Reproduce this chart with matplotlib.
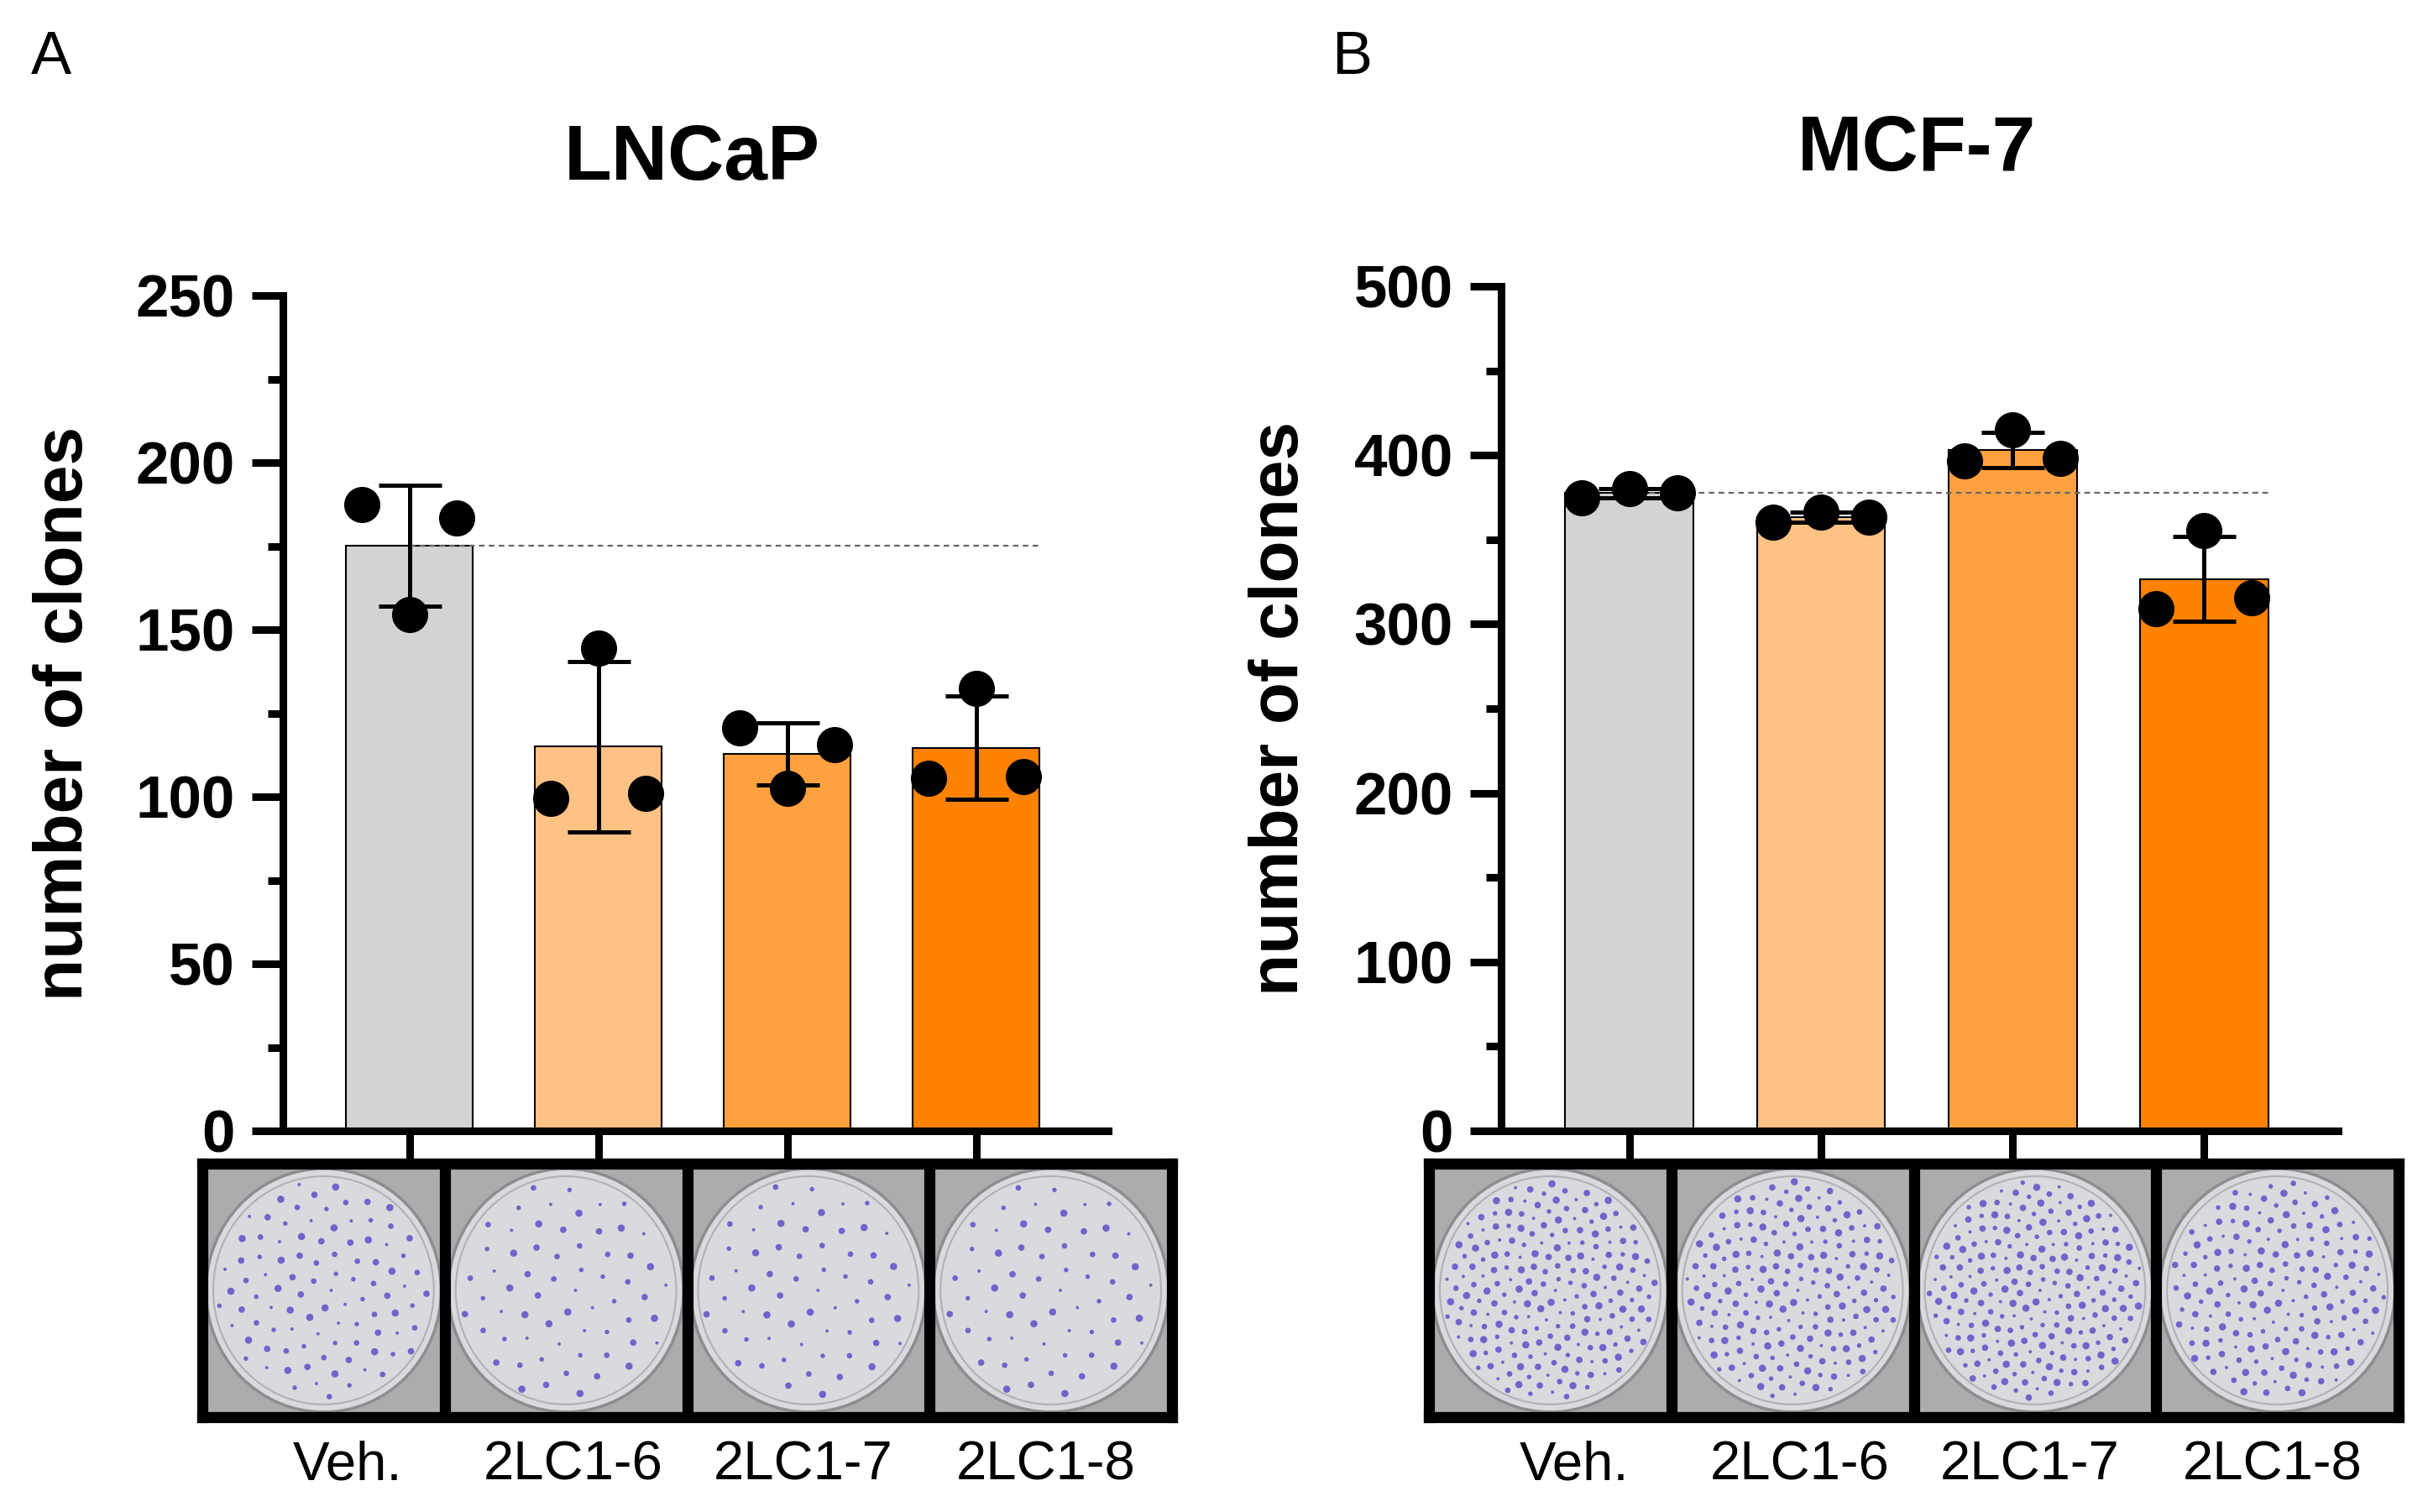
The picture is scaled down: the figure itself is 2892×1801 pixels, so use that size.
import numpy as np
import matplotlib
matplotlib.use('Agg')
import matplotlib.pyplot as plt
from matplotlib.patches import Rectangle, Ellipse

plt.rcParams['font.family'] = ['Liberation Sans', 'DejaVu Sans']

# data (left, middle, right dot in each group)
groups = ['Veh.', '2LC1-6', '2LC1-7', '2LC1-8']
lncap_pts = [[187.5, 154.5, 183.5],
             [99.5, 144.5, 101.0],
             [120.5, 102.5, 115.5],
             [105.5, 132.5, 106.0]]
mcf7_pts = [[375.0, 380.0, 377.5],
            [360.5, 366.5, 363.5],
            [396.5, 415.0, 398.0],
            [309.0, 355.5, 315.5]]
bar_colors = ['#D3D3D3', '#FFC285', '#FFA13F', '#FF8200']
dot_offsets = [-0.25, 0.0, 0.25]

W, H = 2892, 1801
fig = plt.figure(figsize=(W / 100, H / 100), dpi=100)


def px_axes(x0, y0, x1, y1):
    # pixel box (top-left origin) -> figure axes
    return fig.add_axes([x0 / W, 1 - y1 / H, (x1 - x0) / W, (y1 - y0) / H])


def bar_panel(ax, pts, ymax, ystep):
    pts = np.array(pts)
    x = np.arange(len(groups))
    means = pts.mean(axis=1)
    sds = pts.std(axis=1, ddof=1)
    ax.bar(x, means, width=0.67, color=bar_colors, edgecolor='black',
           linewidth=1.5, zorder=2)
    ax.hlines(means[0], 0, 3.35, colors='#666666', linewidth=1.6,
              linestyles=(0, (3, 2.3)), zorder=3)
    ax.errorbar(x, means, yerr=sds, fmt='none', ecolor='black',
                elinewidth=3.6, capsize=27, capthick=3.6, zorder=4)
    for i in range(len(groups)):
        ax.plot(x[i] + np.array(dot_offsets), pts[i], 'o', color='black',
                markersize=30, zorder=5, clip_on=False)
    ax.set_xlim(-0.67, 3.70)
    ax.set_ylim(0, ymax)
    ax.set_yticks(np.arange(0, ymax + 1, ystep))
    ax.set_yticks(np.arange(ystep / 2, ymax, ystep), minor=True)
    ax.set_xticks(x)
    ax.set_xticklabels([])
    for s in ['top', 'right']:
        ax.spines[s].set_visible(False)
    for s in ['left', 'bottom']:
        ax.spines[s].set_linewidth(6.5)
    ax.tick_params(axis='y', which='major', length=27, width=6.5, pad=14,
                   labelsize=51)
    ax.tick_params(axis='y', which='minor', length=13, width=6.5)
    ax.tick_params(axis='x', which='major', length=26, width=6.5)
    for lab in ax.get_yticklabels():
        lab.set_fontweight('bold')
    ax.set_ylabel('number of clones', fontsize=59, fontweight='bold')
    ax.yaxis.set_label_coords(-0.226, 0.5)


def dish_panel(ax, pts):
    means = np.array(pts).mean(axis=1)
    ax.set_xlim(0, 4)
    ax.set_ylim(0, 1)
    for i in range(4):
        ax.add_patch(Rectangle((i, 0), 1, 1, color='#ABADAA', zorder=1))
        ax.add_patch(Ellipse((i + 0.5, 0.5), 0.97, 0.96, facecolor='#D9DADD',
                             edgecolor='#8C8D8F', linewidth=2.5, zorder=2))
        ax.add_patch(Ellipse((i + 0.5, 0.5), 0.91, 0.90, facecolor='none',
                             edgecolor='#B0B1B4', linewidth=1.5, zorder=2))
        # colonies laid out on a sunflower pattern, count follows the mean
        n = int(means[i] * 0.55)
        k = np.arange(n)
        r = np.sqrt((k + 0.5) / n)
        th = k * 2.39996
        cx = i + 0.5 + 0.44 * r * np.cos(th)
        cy = 0.5 + 0.43 * r * np.sin(th)
        sz = 8 + 30 * ((k * 7) % 5) / 4
        ax.scatter(cx, cy, s=sz, color='#4B3CC4', alpha=0.75,
                   linewidths=0, zorder=3)
    for xv in [1, 2, 3]:
        ax.axvline(xv, color='black', linewidth=9.5, zorder=4)
    for s in ax.spines.values():
        s.set_linewidth(9.5)
    ax.set_xticks([0.6, 1.53, 2.48, 3.48])
    ax.set_xticklabels(groups, fontsize=47)
    ax.set_yticks([])
    ax.tick_params(axis='x', length=0, pad=20)


ax1 = px_axes(337, 352, 1320, 1347)
bar_panel(ax1, lncap_pts, 250, 50)
ax2 = px_axes(1788, 341, 2785, 1347)
bar_panel(ax2, mcf7_pts, 500, 100)

d1 = px_axes(241, 1386, 1396, 1688)
dish_panel(d1, lncap_pts)
d2 = px_axes(1702, 1386, 2857, 1688)
dish_panel(d2, mcf7_pts)

fig.text(824 / W, 1 - 190 / H, 'LNCaP', fontsize=67, fontweight='bold',
         ha='center', va='center')
fig.text(2283 / W, 1 - 179 / H, 'MCF-7', fontsize=67, fontweight='bold',
         ha='center', va='center')
fig.text(61 / W, 1 - 70 / H, 'A', fontsize=52, ha='center', va='center')
fig.text(1610 / W, 1 - 70 / H, 'B', fontsize=52, ha='center', va='center')

fig.savefig('out.png', dpi=100)
